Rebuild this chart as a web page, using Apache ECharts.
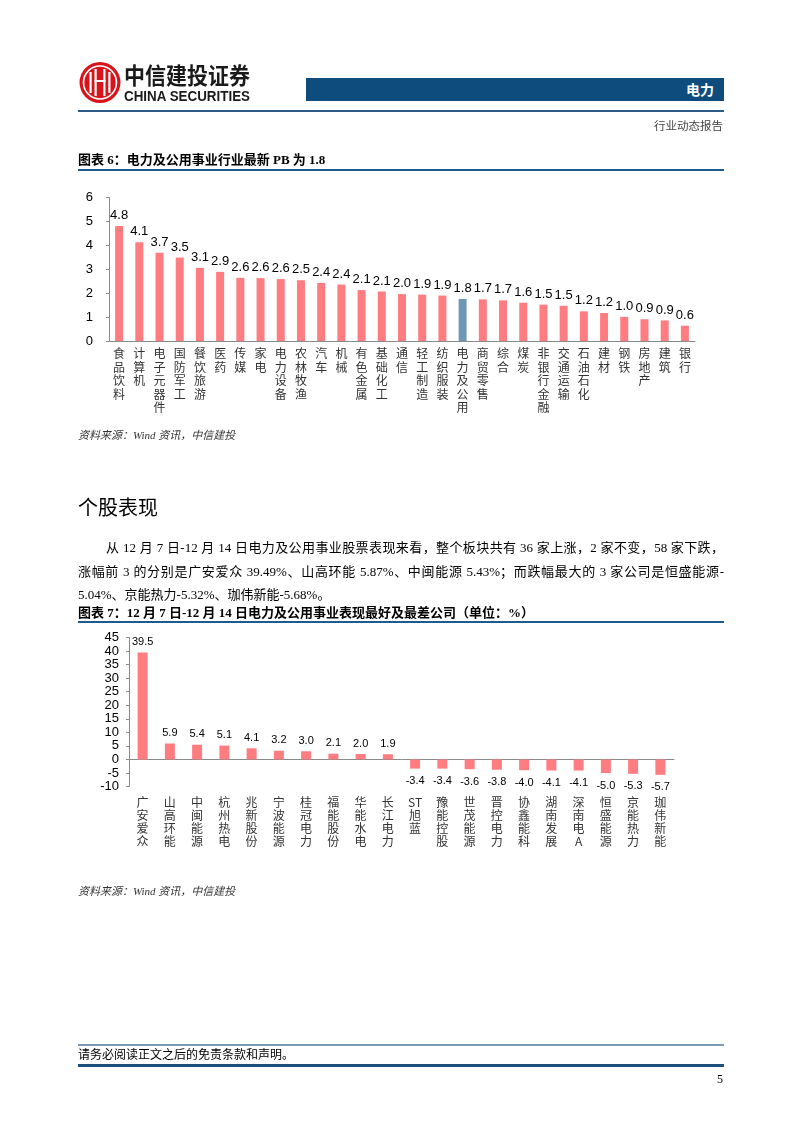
<!DOCTYPE html>
<html><head><meta charset="utf-8">
<script src="https://cdn.jsdelivr.net/npm/echarts@6/dist/echarts.min.js"></script>
<style>
body{margin:0;width:802px;height:1133px;position:relative;background:#fff;overflow:hidden;font-family:"Liberation Serif","Noto Sans CJK SC",serif;color:#000;}
#chart{position:absolute;left:0;top:0;width:802px;height:1133px;}
.abs{position:absolute;white-space:nowrap;}
.hl{position:absolute;left:78px;width:646px;}
.para{position:absolute;font-size:13px;line-height:16px;text-align:justify;text-align-last:justify;}
.title{font-size:13px;font-weight:bold;line-height:16px;}
.src{font-size:11px;font-style:italic;color:#333;line-height:14px;}
</style></head><body>
<div id="chart"></div>

<svg class="abs" style="left:79px;top:61px" width="180" height="44">
  <circle cx="21" cy="21.5" r="20.5" fill="#D7141A"/>
  <circle cx="21" cy="21.5" r="16.5" fill="none" stroke="#fff" stroke-width="1.6"/>
  <rect x="10.5" y="11" width="2.2" height="21" fill="#fff"/>
  <rect x="15.5" y="8" width="2.2" height="27" fill="#fff"/>
  <rect x="24.3" y="8" width="2.2" height="27" fill="#fff"/>
  <rect x="29.3" y="11" width="2.2" height="21" fill="#fff"/>
  <rect x="15.5" y="19" width="11" height="2" fill="#fff"/>
  <text x="45" y="23" font-family="Noto Sans CJK SC" font-weight="bold" font-size="23" fill="#1a1a1a" textLength="126" lengthAdjust="spacingAndGlyphs">中信建投证券</text>
  <text x="45" y="39.5" font-family="Liberation Sans Narrow, Liberation Sans" font-weight="bold" font-size="14" fill="#1a1a1a" textLength="126" lengthAdjust="spacingAndGlyphs">CHINA SECURITIES</text>
</svg>
<div class="abs" style="left:306px;top:78px;width:418px;height:23px;background:#0D4C7D;"></div>
<div class="abs" style="left:640px;top:81px;width:74px;text-align:right;color:#fff;font-family:'Noto Sans CJK SC';font-weight:bold;font-size:14px;line-height:17px;">电力</div>
<div class="hl" style="top:110px;height:1.5px;background:#2A5A86;"></div>
<div class="abs" style="left:600px;top:119px;width:123px;text-align:right;font-size:11.5px;color:#444;line-height:15px;">行业动态报告</div>

<div class="abs title" style="left:78px;top:152px;">图表 6：电力及公用事业行业最新 PB 为 1.8</div>
<div class="hl" style="top:169px;height:2px;background:#1F5A8C;"></div>
<div class="abs src" style="left:78px;top:428px;">资料来源：Wind 资讯，中信建投</div>

<div class="abs" style="left:78px;top:494px;font-size:20px;line-height:26px;font-family:'Noto Sans CJK SC';">个股表现</div>
<div class="para" style="left:106px;top:540px;width:618px;">从 12 月 7 日-12 月 14 日电力及公用事业股票表现来看，整个板块共有 36 家上涨，2 家不变，58 家下跌，</div>
<div class="para" style="left:78px;top:564px;width:646px;">涨幅前 3 的分别是广安爱众 39.49%、山高环能 5.87%、中闽能源 5.43%；而跌幅最大的 3 家公司是恒盛能源-</div>
<div class="para" style="left:78px;top:587px;width:646px;text-align:left;text-align-last:left;">5.04%、京能热力-5.32%、珈伟新能-5.68%。</div>
<div class="abs title" style="left:78px;top:605px;">图表 7：12 月 7 日-12 月 14 日电力及公用事业表现最好及最差公司（单位：%）</div>
<div class="hl" style="top:621px;height:2px;background:#1F5A8C;"></div>
<div class="abs src" style="left:78px;top:884px;">资料来源：Wind 资讯，中信建投</div>

<div class="hl" style="top:1044px;height:2px;background:#7C9AB2;"></div>
<div class="abs" style="left:78px;top:1048px;font-size:12px;line-height:15px;">请务必阅读正文之后的免责条款和声明。</div>
<div class="hl" style="top:1064px;height:3px;background:#1C4E7E;"></div>
<div class="abs" style="left:700px;top:1072px;width:23px;text-align:right;font-size:12px;line-height:15px;">5</div>

<script>
// ---- Chart 6 data: industry PB ----
const pbCategories = ['食品饮料','计算机','电子元器件','国防军工','餐饮旅游','医药','传媒','家电','电力设备','农林牧渔','汽车','机械','有色金属','基础化工','通信','轻工制造','纺织服装','电力及公用','商贸零售','综合','煤炭','非银行金融','交通运输','石油石化','建材','钢铁','房地产','建筑','银行'];
const pbValues = [4.81,4.13,3.69,3.49,3.06,2.89,2.64,2.63,2.59,2.54,2.43,2.36,2.13,2.07,1.96,1.94,1.90,1.76,1.74,1.70,1.60,1.52,1.47,1.24,1.17,1.01,0.91,0.86,0.64];
const pbHighlight = '电力及公用';
const pbTicks = [0,1,2,3,4,5,6];

// ---- Chart 7 data: best / worst stocks (%) ----
const stockNames = ['广安爱众','山高环能','中闽能源','杭州热电','兆新股份','宁波能源','桂冠电力','福能股份','华能水电','长江电力','ST旭蓝','豫能控股','世茂能源','晋控电力','协鑫能科','湖南发展','深南电A','恒盛能源','京能热力','珈伟新能'];
const stockChanges = [39.49,5.87,5.43,5.1,4.1,3.2,3.0,2.1,2.0,1.9,-3.4,-3.4,-3.6,-3.8,-4.0,-4.1,-4.1,-5.04,-5.32,-5.68];
const changeTicks = [-10,-5,0,5,10,15,20,25,30,35,40,45];

const PINK = '#FF7C80', BLUE = '#6D97B6', AXIS = '#8A8A8A';
const SANS = 'Liberation Sans, Arial, sans-serif';
const CJK = 'Noto Sans CJK SC, sans-serif';
const vert = n => (n.match(/[A-Za-z]+|./g) || []).join('\n');

const chart = echarts.init(document.getElementById('chart'), null, {renderer:'canvas'});
chart.setOption({
  animation:false,
  backgroundColor:'transparent',
  grid:[
    {left:109, top:197.5, width:586, height:143.5},
    {left:129, top:637.5, width:545, height:149}
  ],
  xAxis:[
    {gridIndex:0, type:'category', data:pbCategories,
     axisLine:{lineStyle:{color:AXIS}},
     axisTick:{inside:true, length:4, lineStyle:{color:AXIS}},
     axisLabel:{interval:0, formatter:vert, fontSize:12, lineHeight:13.5, color:'#333', margin:6, fontFamily:CJK}},
    {gridIndex:1, type:'category', data:stockNames,
     axisLine:{onZero:true, lineStyle:{color:AXIS}},
     axisTick:{inside:true, length:4, lineStyle:{color:AXIS}},
     axisLabel:{show:false}},
    {gridIndex:1, type:'category', data:stockNames, position:'bottom',
     axisLine:{show:false, onZero:false}, axisTick:{show:false},
     axisLabel:{interval:0, formatter:vert, fontSize:12, lineHeight:13, color:'#333', margin:9, fontFamily:CJK}}
  ],
  yAxis:[
    {gridIndex:0, type:'value', min:pbTicks[0], max:pbTicks[pbTicks.length-1], interval:1,
     axisLine:{show:true, lineStyle:{color:AXIS}}, axisTick:{show:true, length:3, lineStyle:{color:AXIS}},
     splitLine:{show:false},
     axisLabel:{fontSize:13, color:'#000', margin:16, fontFamily:SANS, showMinLabel:true, showMaxLabel:true}},
    {gridIndex:1, type:'value', min:changeTicks[0], max:changeTicks[changeTicks.length-1], interval:5,
     axisLine:{show:true, lineStyle:{color:AXIS}}, axisTick:{show:true, length:3, lineStyle:{color:AXIS}},
     splitLine:{show:false},
     axisLabel:{fontSize:13, color:'#000', margin:10, fontFamily:SANS, showMinLabel:true, showMaxLabel:true, hideOverlap:false}}
  ],
  series:[
    {type:'bar', xAxisIndex:0, yAxisIndex:0, barWidth:8,
     data:pbValues.map((v,i)=>({value:v, itemStyle:{color: pbCategories[i]===pbHighlight ? BLUE : PINK}})),
     label:{show:true, position:'top', distance:4, fontSize:13, color:'#000', fontFamily:SANS,
            formatter:p=>p.value.toFixed(1)}},
    {type:'bar', xAxisIndex:1, yAxisIndex:1, barWidth:10,
     data:stockChanges.map(v=>({value:v, label:{position: v>=0 ? 'top' : 'bottom', distance: v>=0 ? 5 : 7}})),
     itemStyle:{color:PINK},
     label:{show:true, fontSize:11, color:'#000', fontFamily:SANS, formatter:p=>p.value.toFixed(1)}}
  ]
});
</script>
</body></html>
